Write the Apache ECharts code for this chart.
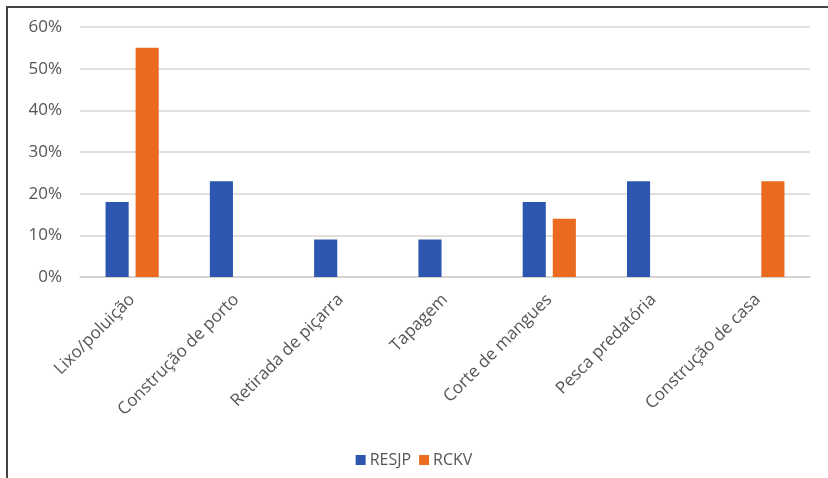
<!DOCTYPE html>
<html>
<head>
<meta charset="utf-8">
<script src="https://cdn.jsdelivr.net/npm/echarts@6/dist/echarts.min.js"></script>
<style>
html, body { margin: 0; padding: 0; background: #fff; }
#wrap { position: relative; width: 828px; height: 478px; }
#chart { position: absolute; left: 0; top: 0; width: 828px; height: 478px; }
#frame { position: absolute; left: 6px; top: 6px; width: 822px; height: 472px;
  border-left: 2px solid #444; border-top: 2px solid #444; box-sizing: border-box; pointer-events: none; }
</style>
</head>
<body>
<div id="wrap">
  <div id="chart"></div>
  <div id="frame"></div>
</div>
<script>
// categorias e valores (%)
const categories = ['Lixo/poluição', 'Construção de porto', 'Retirada de piçarra', 'Tapagem',
  'Corte de mangues', 'Pesca predatória', 'Construção de casa'];
const resjp = [18, 23, 9, 9, 18, 23, 0];
const rckv = [55, 0, 0, 0, 14, 0, 23];
const yTicks = [0, 10, 20, 30, 40, 50, 60];

const chart = echarts.init(document.getElementById('chart'));
const textColor = '#555';
const font = 'Open Sans';

const option = {
  animation: false,
  textStyle: { fontFamily: font },
  grid: { left: 80, right: 18, top: 27, bottom: 201 },
  legend: {
    bottom: 5,
    left: 'center',
    itemWidth: 10,
    itemHeight: 10,
    itemGap: 8,
    icon: 'rect',
    textStyle: { color: textColor, fontSize: 16, fontFamily: font, padding: [0, 0, 0, -1] },
    data: ['RESJP', 'RCKV']
  },
  xAxis: {
    type: 'category',
    data: categories,
    axisTick: { show: false },
    axisLine: { lineStyle: { color: '#d5cfcb', width: 1.5 } },
    axisLabel: {
      interval: 0,
      rotate: 45,
      color: textColor,
      fontSize: 17,
      fontFamily: font,
      margin: 20
    }
  },
  yAxis: {
    type: 'value',
    min: yTicks[0],
    max: yTicks[yTicks.length - 1],
    interval: 10,
    axisLine: { show: false },
    axisTick: { show: false },
    splitLine: { lineStyle: { color: '#d9d3cf', width: 1.5 } },
    axisLabel: {
      color: textColor,
      fontSize: 17,
      fontFamily: font,
      margin: 18,
      formatter: v => v + '%'
    }
  },
  series: [
    {
      name: 'RESJP',
      type: 'bar',
      data: resjp,
      barGap: '30%',
      barCategoryGap: '49%',
      itemStyle: { color: '#2c56b0' }
    },
    {
      name: 'RCKV',
      type: 'bar',
      data: rckv,
      itemStyle: { color: '#ea6a20' }
    }
  ]
};
chart.setOption(option);
</script>
</body>
</html>
